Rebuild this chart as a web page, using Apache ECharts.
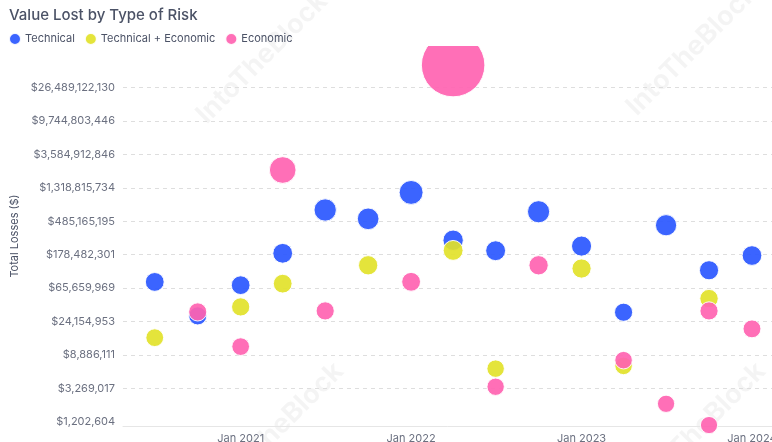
<!DOCTYPE html>
<html>
<head>
<meta charset="utf-8">
<script src="https://cdn.jsdelivr.net/npm/echarts@6/dist/echarts.min.js"></script>
<style>
  html, body { margin: 0; padding: 0; background: #fff; }
  #main { width: 772px; height: 442px; }
</style>
</head>
<body>
<div id="main"></div>
<script>
// y 轴刻度（底数 e 的对数刻度）
var yTicks = [1202604, 3269017, 8886111, 24154953, 65659969, 178482301, 485165195, 1318815734, 3584912846, 9744803446, 26489122130]

// Technical
var technicalDates = ['2020-07-01', '2020-10-01', '2021-01-01', '2021-04-01', '2021-07-01', '2021-10-01', '2022-01-01', '2022-04-01', '2022-07-01', '2022-10-01', '2023-01-01', '2023-04-01', '2023-07-01', '2023-10-01', '2024-01-01']
var technicalValues = [79000000, 28600000, 71700000, 186000000, 680000000, 522000000, 1150000000, 275000000, 201000000, 645000000, 231000000, 31900000, 431000000, 112000000, 174000000]

// Technical + Economic
var mixedDates = ['2020-07-01', '2021-01-01', '2021-04-01', '2021-10-01', '2022-04-01', '2022-07-01', '2023-01-01', '2023-04-01', '2023-10-01']
var mixedValues = [14900000, 37400000, 75000000, 130000000, 203000000, 5900000, 118000000, 6400000, 48000000]

// Economic
var economicDates = ['2020-10-01', '2021-01-01', '2021-04-01', '2021-07-01', '2022-01-01', '2022-04-01', '2022-07-01', '2022-10-01', '2023-04-01', '2023-07-01', '2023-10-01', '2023-10-01', '2024-01-01']
var economicValues = [32200000, 11400000, 2250000000, 33200000, 79300000, 52000000000, 3430000, 130000000, 7600000, 2060000, 33200000, 1090000, 19400000]

var seriesNames = ['Technical', 'Technical + Economic', 'Economic']
var colors = ['#2a57ff', '#e2e22a', '#ff63b1']

function pairs(dates, values) {
  return dates.map(function (d, i) { return [d, values[i]] })
}

// 气泡大小随数值变化
function bubbleSize(val) {
  return 17 + 0.000204 * Math.sqrt(val[1])
}

function makeSeries(name, data, color) {
  return {
    name: name,
    type: 'scatter',
    data: data,
    symbolSize: bubbleSize,
    itemStyle: { color: color, opacity: 0.92, borderColor: '#fff', borderWidth: 1 },
    emphasis: { disabled: true }
  }
}

function watermark(x, y) {
  return {
    type: 'text',
    x: x,
    y: y,
    rotation: Math.PI / 4,
    z: 0,
    silent: true,
    style: {
      text: 'IntoTheBlock',
      fontSize: 27,
      fontWeight: 'bold',
      fontFamily: 'Inter',
      fill: 'rgba(0,0,0,0.045)',
      align: 'center',
      verticalAlign: 'middle'
    }
  }
}

var myChart = echarts.init(document.getElementById('main'))
myChart.setOption({
  animation: false,
  textStyle: { fontFamily: 'Inter' },
  color: colors,
  title: {
    text: 'Value Lost by Type of Risk',
    left: 4,
    top: 3,
    textStyle: { fontSize: 15, fontWeight: 500, color: '#4b5266' }
  },
  legend: {
    data: seriesNames,
    left: 8,
    top: 32,
    icon: 'circle',
    itemWidth: 12,
    itemHeight: 12,
    itemGap: 9,
    padding: 0,
    textStyle: { fontSize: 11, color: '#4b5266', padding: [0, 0, 0, -1] }
  },
  graphic: {
    elements: [
      watermark(262, 58),
      watermark(692, 50),
      watermark(278, 428),
      watermark(700, 428),
      // 顶部裁切大气泡
      { type: 'rect', z: 3, silent: true, shape: { x: 380, y: 0, width: 150, height: 46 }, style: { fill: '#fff' } }
    ]
  },
  grid: {
    left: 123,
    right: -8,
    top: 46,
    bottom: 16,
    outerBoundsMode: 'none'
  },
  xAxis: {
    type: 'time',
    min: echarts.time.parse('2020-04-24'),
    max: echarts.time.parse('2024-03-01'),
    minInterval: 365 * 24 * 3600 * 1000,
    axisLine: { lineStyle: { color: '#e6e6e6' } },
    axisTick: { show: false },
    splitLine: { show: false },
    axisLabel: {
      formatter: '{MMM} {yyyy}',
      color: '#6b7080',
      fontSize: 11,
      margin: 7,
      showMinLabel: false,
      showMaxLabel: false
    }
  },
  yAxis: {
    type: 'log',
    logBase: Math.E,
    min: 1060000,
    max: 92000000000,
    name: 'Total Losses ($)',
    nameLocation: 'middle',
    nameGap: 99,
    nameTextStyle: { fontSize: 11, color: '#4b5266' },
    axisLine: { show: false },
    axisTick: { show: false, customValues: yTicks },
    axisLabel: {
      customValues: yTicks,
      color: '#6b7080',
      fontSize: 11,
      margin: 8,
      formatter: function (v) {
        return '$' + Math.round(v).toLocaleString('en-US')
      }
    },
    splitLine: { showMinLine: false, lineStyle: { color: '#dedede', type: [4, 4] } }
  },
  series: [
    makeSeries(seriesNames[0], pairs(technicalDates, technicalValues), colors[0]),
    makeSeries(seriesNames[1], pairs(mixedDates, mixedValues), colors[1]),
    makeSeries(seriesNames[2], pairs(economicDates, economicValues), colors[2])
  ]
})
</script>
</body>
</html>
